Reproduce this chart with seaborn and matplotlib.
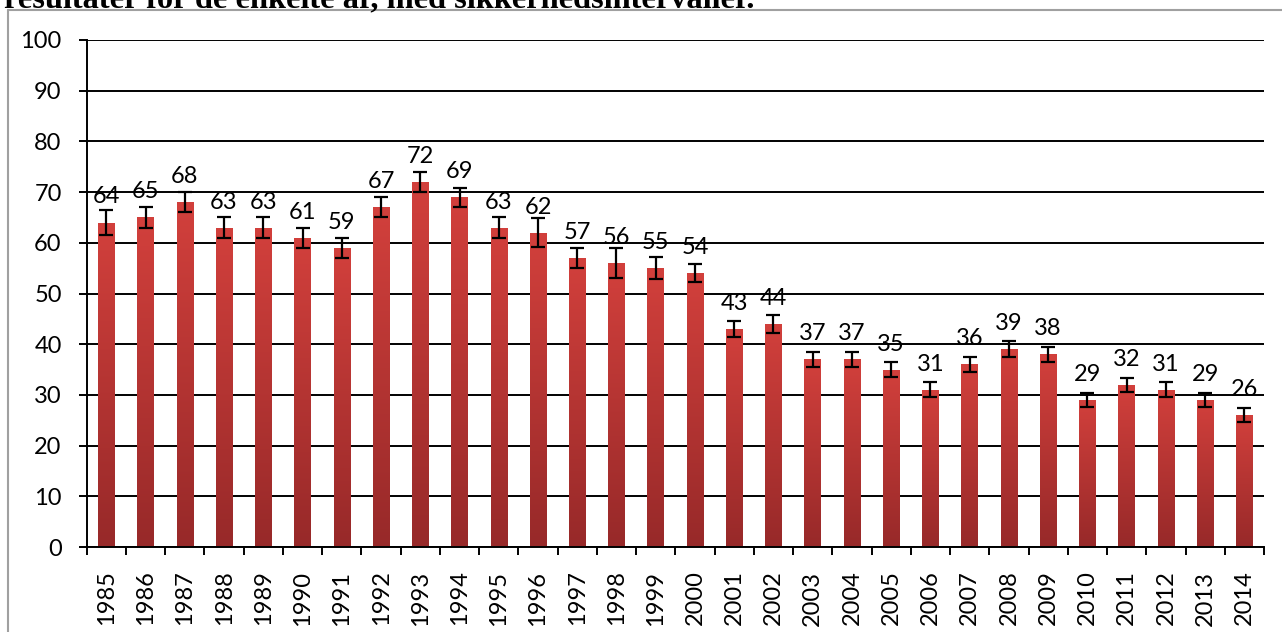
import numpy as np
import pandas as pd
import matplotlib
matplotlib.use("Agg")
import matplotlib.pyplot as plt
from matplotlib.colors import LinearSegmentedColormap
from matplotlib.lines import Line2D
import seaborn as sns

# Survey results per year with confidence half-widths
years = [str(y) for y in range(1985, 2015)]
values = [64, 65, 68, 63, 63, 61, 59, 67, 72, 69, 63, 62, 57, 56, 55, 54,
          43, 44, 37, 37, 35, 31, 36, 39, 38, 29, 32, 31, 29, 26]
ci_half = [2.4, 2.0, 2.0, 2.0, 2.0, 2.0, 2.0, 1.95, 1.9, 1.9, 2.05, 2.8, 2.05, 2.9, 2.15, 1.8,
           1.6, 1.8, 1.5, 1.55, 1.5, 1.5, 1.5, 1.55, 1.5, 1.4, 1.4, 1.45, 1.45, 1.35]
title_text = "resultater for de enkelte år, med sikkerhedsintervaller."

sns.set_theme(style="white")
plt.rcParams["font.family"] = ["Lato", "DejaVu Sans"]

df = pd.DataFrame({"year": years, "value": values})

fig = plt.figure(figsize=(12.82, 6.32), dpi=100)
ax = fig.add_axes([86.7 / 1282, 1 - 547 / 632, (1264 - 86.7) / 1282, (547 - 40) / 632])

sns.barplot(data=df, x="year", y="value", color="#c0392f", width=0.42,
            saturation=1, ax=ax, zorder=2, errorbar=None)

# vertical gradient fill inside each bar
cmap = LinearSegmentedColormap.from_list("bar", ["#972929", "#d2403c"])
grad = np.linspace(0, 1, 256).reshape(-1, 1)
centers = []
for p in ax.patches:
    x0, w, h = p.get_x(), p.get_width(), p.get_height()
    centers.append(x0 + w / 2)
    p.set_edgecolor("none")
    im = ax.imshow(grad, extent=[x0, x0 + w, 0, h], origin="lower", aspect="auto",
                   cmap=cmap, interpolation="bicubic", zorder=2.1)
    im.set_clip_path(p)

ax.errorbar(centers, values, yerr=ci_half, fmt="none", ecolor="black",
            elinewidth=1.6, capsize=5, capthick=1.6, zorder=4)

for cx, v in zip(centers, values):
    ax.annotate(f"{v}", (cx, v), xytext=(0, 13.7), textcoords="offset points",
                ha="center", va="baseline", fontsize=17, color="black", zorder=5)

ax.set_xlim(-0.5, len(years) - 0.5)
ax.set_ylim(0, 100)
ax.set_yticks(range(0, 101, 10))
ax.yaxis.grid(True, color="black", linewidth=1.4, zorder=0)
ax.set_axisbelow(True)
ax.set_xlabel("")
ax.set_ylabel("")

for side in ["top", "right"]:
    ax.spines[side].set_visible(False)
for side in ["left", "bottom"]:
    ax.spines[side].set_color("black")
    ax.spines[side].set_linewidth(1.4)
    ax.spines[side].set_zorder(3)

ax.tick_params(axis="y", which="major", left=True, length=6, width=1.4, color="black",
               labelsize=17, pad=12, labelcolor="black")
ax.set_xticks(range(len(years)))
ax.set_xticklabels(years, rotation=90)
ax.set_xticks(np.arange(-0.5, len(years), 1.0), minor=True)
ax.tick_params(axis="x", which="major", bottom=True, length=0, labelsize=17, pad=17,
               labelcolor="black")
ax.tick_params(axis="x", which="minor", bottom=True, length=6, width=1.4, color="black")

# caption above the chart frame
fig.text(4 / 1282, 1 - 7 / 632, title_text, ha="left", va="baseline",
         fontsize=23.3, fontweight="bold", family="Liberation Serif", color="black")

# frame around the chart area
fig.add_artist(Line2D([8 / 1282, 1.0], [1 - 10 / 632, 1 - 10 / 632],
                      transform=fig.transFigure, color="#a0a0a0", linewidth=1.5))
fig.add_artist(Line2D([8 / 1282, 8 / 1282], [0.0, 1 - 10 / 632],
                      transform=fig.transFigure, color="#a0a0a0", linewidth=1.5))

fig.savefig("out.png", dpi=100)
